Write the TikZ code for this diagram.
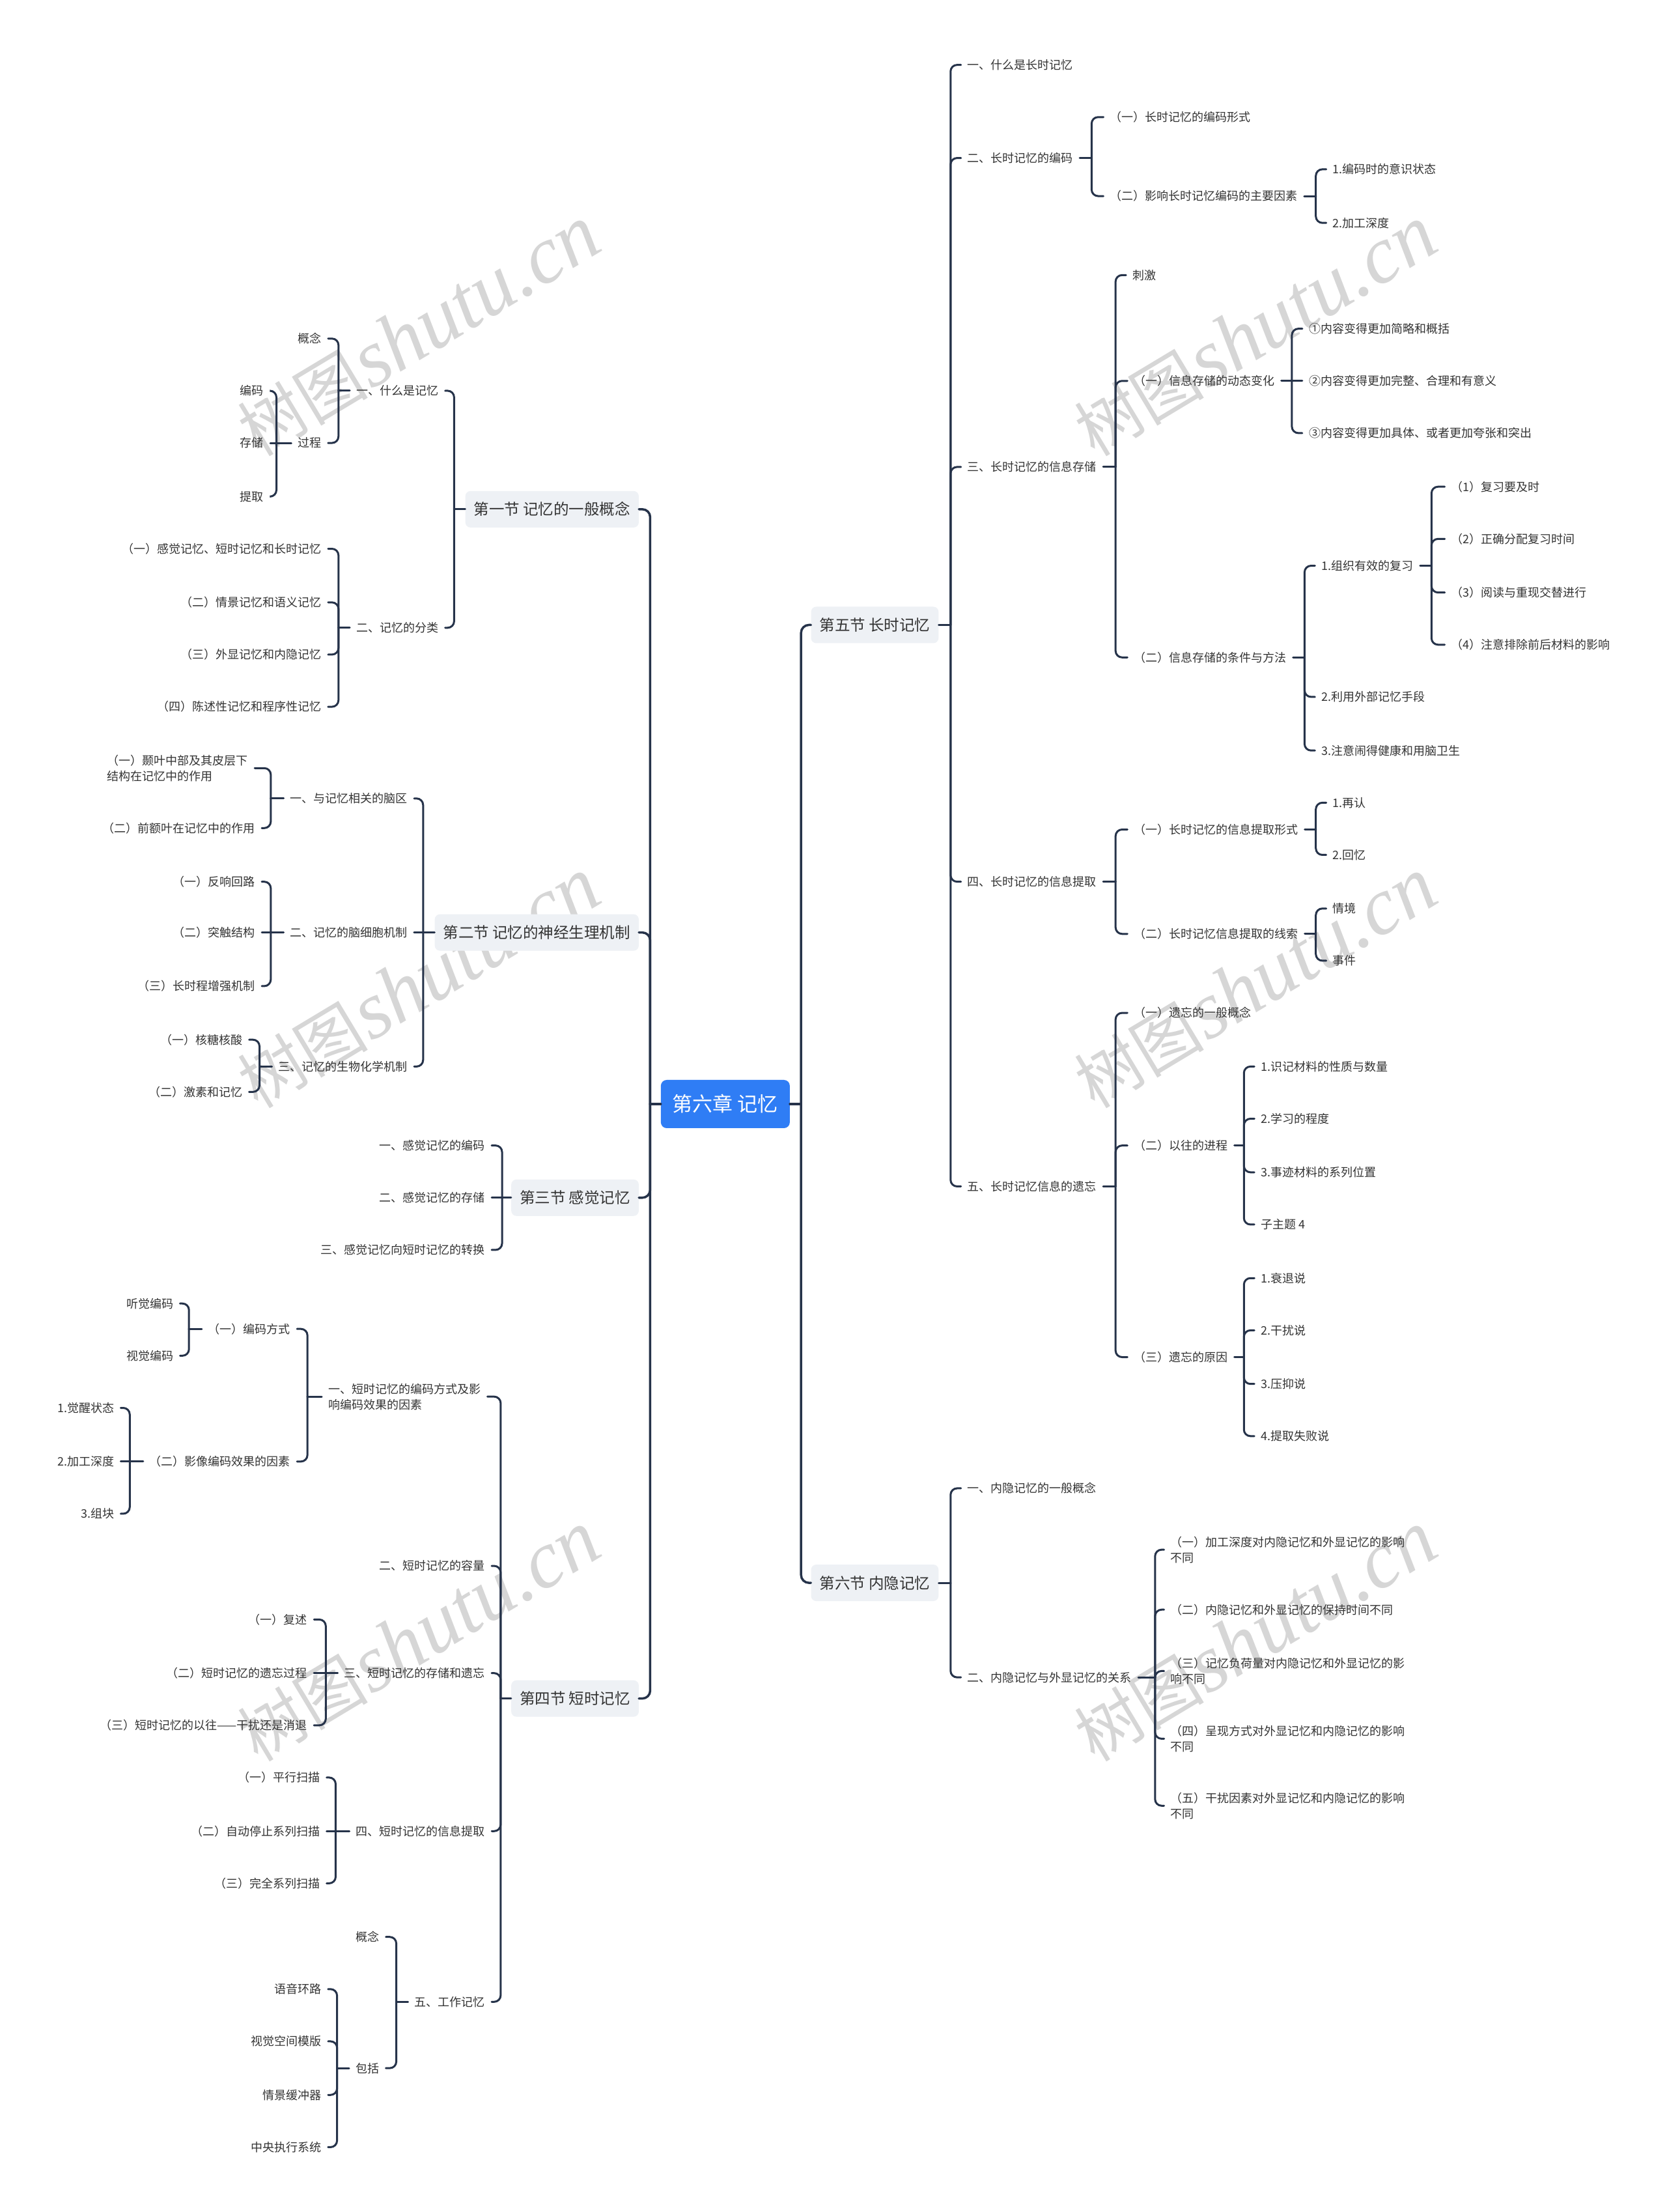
\documentclass[tikz,border=0pt]{standalone}
\usepackage{fontspec}
\setmainfont{Noto Sans CJK SC}
\newfontfamily\wmlat{Liberation Serif}
\newfontfamily\wmcjk{Noto Sans CJK SC}
\definecolor{lc}{HTML}{26334A}
\definecolor{tc}{HTML}{333333}
\definecolor{secbg}{HTML}{EEF1F5}
\definecolor{rootbg}{HTML}{2F7DF5}
\definecolor{wmc}{HTML}{D6D6D6}
\tikzset{
 ln/.style={draw=lc, line width=3pt, rounded corners=10pt, line cap=round},
 tk/.style={draw=lc, line width=3.5pt, rounded corners=12pt, line cap=round},
 txt/.style={font=\fontsize{18}{24}\selectfont, text=tc, inner xsep=10pt, inner ysep=3pt},
 kl/.style={txt, anchor=east, xshift=10pt},
 kr/.style={txt, anchor=west, xshift=-10pt},
 sec/.style={font=\fontsize{23.5}{28}\selectfont, text=tc, fill=secbg, rounded corners=8pt, inner xsep=13pt, inner ysep=0pt, minimum height=56pt},
 secl/.style={sec, anchor=east},
 secr/.style={sec, anchor=west},
 rootn/.style={font=\fontsize{31}{36}\selectfont, text=white, fill=rootbg, rounded corners=9pt, inner sep=0pt, minimum width=198pt, minimum height=74pt},
 wm/.style={text=wmc, rotate=31, inner sep=0pt}
}
\newcommand\lkids[3]{%
  \coordinate (#1j) at (#2,0 |- #1);
  \draw[ln] (#1.west) -- (#1j);
  \foreach \c in {#3}{\draw[ln] (#1j) |- (\c.east);}%
}
\newcommand\rkids[3]{%
  \coordinate (#1j) at (#2,0 |- #1);
  \draw[ln] (#1.east) -- (#1j);
  \foreach \c in {#3}{\draw[ln] (#1j) |- (\c.west);}%
}
\begin{document}
\begin{tikzpicture}[x=2.16582pt, y=-2.16582pt]
\fill[white] (0,0) rectangle (1182,1568);
\useasboundingbox (0,0) rectangle (1182,1568);
% watermarks
\foreach \wx/\wy [count=\k] in {297/235,890/235,297/697,890/697,297/1160,890/1160}
  \node[wm] (wm\k) at (\wx,\wy) {{\wmcjk\fontsize{100}{110}\selectfont 树图} {\wmlat\itshape\fontsize{125}{130}\selectfont shutu.cn}};

% root and sections
\node[rootn] (root) at (514.3,782.6) {第六章 记忆};
\node[secl] (s1) at (453,361) {第一节 记忆的一般概念};
\node[secl] (s2) at (453,661) {第二节 记忆的神经生理机制};
\node[secl] (s3) at (453,849) {第三节 感觉记忆};
\node[secl] (s4) at (453,1204) {第四节 短时记忆};
\node[secr] (s5) at (575,443) {第五节 长时记忆};
\node[secr] (s6) at (575,1122) {第六节 内隐记忆};

% section 1
\node[kl] (a1) at (311,277) {一、什么是记忆};
\node[kl] (a1x) at (228,240) {概念};
\node[kl] (a1y) at (228,314) {过程};
\node[kl] (b1) at (187,277) {编码};
\node[kl] (b2) at (187,314) {存储};
\node[kl] (b3) at (187,352) {提取};
\node[kl] (a2) at (311,445) {二、记忆的分类};
\node[kl] (a2a) at (228,389) {（一）感觉记忆、短时记忆和长时记忆};
\node[kl] (a2b) at (228,427) {（二）情景记忆和语义记忆};
\node[kl] (a2c) at (228,464) {（三）外显记忆和内隐记忆};
\node[kl] (a2d) at (228,501) {（四）陈述性记忆和程序性记忆};

% section 2
\node[kl] (d1) at (289,566) {一、与记忆相关的脑区};
\node[kl, align=left] (d1a) at (176,544.5) {（一）颞叶中部及其皮层下\\结构在记忆中的作用};
\node[kl] (d1b) at (181,587) {（二）前额叶在记忆中的作用};
\node[kl] (d2) at (289,661) {二、记忆的脑细胞机制};
\node[kl] (d2a) at (181,625) {（一）反响回路};
\node[kl] (d2b) at (181,661) {（二）突触结构};
\node[kl] (d2c) at (181,699) {（三）长时程增强机制};
\node[kl] (d3) at (289,756) {三、记忆的生物化学机制};
\node[kl] (d3a) at (172,737) {（一）核糖核酸};
\node[kl] (d3b) at (172,774) {（二）激素和记忆};

% section 3
\node[kl] (e1) at (344,812) {一、感觉记忆的编码};
\node[kl] (e2) at (344,849) {二、感觉记忆的存储};
\node[kl] (e3) at (344,886) {三、感觉记忆向短时记忆的转换};

% section 4
\node[kl, align=left] (f1) at (341,990) {一、短时记忆的编码方式及影\\响编码效果的因素};
\node[kl] (f1a) at (206,942) {（一）编码方式};
\node[kl] (f1a1) at (123,924) {听觉编码};
\node[kl] (f1a2) at (123,961) {视觉编码};
\node[kl] (f1b) at (206,1036) {（二）影像编码效果的因素};
\node[kl] (f1b1) at (81,998) {1.觉醒状态};
\node[kl] (f1b2) at (81,1036) {2.加工深度};
\node[kl] (f1b3) at (81,1073) {3.组块};
\node[kl] (f2) at (344,1110) {二、短时记忆的容量};
\node[kl] (f3) at (344,1186) {三、短时记忆的存储和遗忘};
\node[kl] (f3a) at (218,1148) {（一）复述};
\node[kl] (f3b) at (218,1186) {（二）短时记忆的遗忘过程};
\node[kl] (f3c) at (218,1223) {（三）短时记忆的以往——干扰还是消退};
\node[kl] (f4) at (344,1298) {四、短时记忆的信息提取};
\node[kl] (f4a) at (227,1260) {（一）平行扫描};
\node[kl] (f4b) at (227,1298) {（二）自动停止系列扫描};
\node[kl] (f4c) at (227,1335) {（三）完全系列扫描};
\node[kl] (f5) at (344,1419) {五、工作记忆};
\node[kl] (g1) at (269,1373) {概念};
\node[kl] (g2) at (269,1466) {包括};
\node[kl] (g2a) at (228,1410) {语音环路};
\node[kl] (g2b) at (228,1447) {视觉空间模版};
\node[kl] (g2c) at (228,1485) {情景缓冲器};
\node[kl] (g2d) at (228,1522) {中央执行系统};

% section 5
\node[kr] (h1) at (686,46) {一、什么是长时记忆};
\node[kr] (h2) at (686,112) {二、长时记忆的编码};
\node[kr] (h2a) at (787,83) {（一）长时记忆的编码形式};
\node[kr] (h2b) at (787,139) {（二）影响长时记忆编码的主要因素};
\node[kr] (h2b1) at (945,120) {1.编码时的意识状态};
\node[kr] (h2b2) at (945,158) {2.加工深度};
\node[kr] (h3) at (686,331) {三、长时记忆的信息存储};
\node[kr] (h3a) at (803,195) {刺激};
\node[kr] (h3b) at (804,270) {（一）信息存储的动态变化};
\node[kr] (h3b1) at (928,233) {①内容变得更加简略和概括};
\node[kr] (h3b2) at (928,270) {②内容变得更加完整、合理和有意义};
\node[kr] (h3b3) at (928,307) {③内容变得更加具体、或者更加夸张和突出};
\node[kr] (h3c) at (804,466) {（二）信息存储的条件与方法};
\node[kr] (h3c1) at (937,401) {1.组织有效的复习};
\node[kr] (h3c1a) at (1029,345) {（1）复习要及时};
\node[kr] (h3c1b) at (1029,382) {（2）正确分配复习时间};
\node[kr] (h3c1c) at (1029,420) {（3）阅读与重现交替进行};
\node[kr] (h3c1d) at (1029,457) {（4）注意排除前后材料的影响};
\node[kr] (h3c2) at (937,494) {2.利用外部记忆手段};
\node[kr] (h3c3) at (937,532) {3.注意闹得健康和用脑卫生};
\node[kr] (h4) at (686,625) {四、长时记忆的信息提取};
\node[kr] (h4a) at (804,588) {（一）长时记忆的信息提取形式};
\node[kr] (h4a1) at (945,569) {1.再认};
\node[kr] (h4a2) at (945,606) {2.回忆};
\node[kr] (h4b) at (804,662) {（二）长时记忆信息提取的线索};
\node[kr] (h4b1) at (945,644) {情境};
\node[kr] (h4b2) at (945,681) {事件};
\node[kr] (h5) at (686,841) {五、长时记忆信息的遗忘};
\node[kr] (h5a) at (804,718) {（一）遗忘的一般概念};
\node[kr] (h5b) at (804,812) {（二）以往的进程};
\node[kr] (h5b1) at (894,756) {1.识记材料的性质与数量};
\node[kr] (h5b2) at (894,793) {2.学习的程度};
\node[kr] (h5b3) at (894,831) {3.事迹材料的系列位置};
\node[kr] (h5b4) at (894,868) {子主题 4};
\node[kr] (h5c) at (804,962) {（三）遗忘的原因};
\node[kr] (h5c1) at (894,906) {1.衰退说};
\node[kr] (h5c2) at (894,943) {2.干扰说};
\node[kr] (h5c3) at (894,981) {3.压抑说};
\node[kr] (h5c4) at (894,1018) {4.提取失败说};

% section 6
\node[kr] (i1) at (686,1055) {一、内隐记忆的一般概念};
\node[kr] (i2) at (686,1189) {二、内隐记忆与外显记忆的关系};
\node[kr, align=left] (i2a) at (830,1098.5) {（一）加工深度对内隐记忆和外显记忆的影响\\不同};
\node[kr] (i2b) at (830,1141) {（二）内隐记忆和外显记忆的保持时间不同};
\node[kr, align=left] (i2c) at (830,1184.5) {（三）记忆负荷量对内隐记忆和外显记忆的影\\响不同};
\node[kr, align=left] (i2d) at (830,1232.5) {（四）呈现方式对外显记忆和内隐记忆的影响\\不同};
\node[kr, align=left] (i2e) at (830,1280) {（五）干扰因素对外显记忆和内隐记忆的影响\\不同};

% trunk connectors
\coordinate (rootLj) at (461,0 |- root);
\draw[tk] (root.west) -- (rootLj);
\foreach \s in {s1,s2,s3,s4} \draw[tk] (rootLj) |- (\s.east);
\coordinate (rootRj) at (568,0 |- root);
\draw[tk] (root.east) -- (rootRj);
\foreach \s in {s5,s6} \draw[tk] (rootRj) |- (\s.west);

% left connectors
\lkids{s1}{322}{a1,a2}
\lkids{a1}{240}{a1x,a1y}
\lkids{a1y}{196}{b1,b3}
\draw[ln] (a1yj) -- (b2.east);
\lkids{a2}{240}{a2a,a2b,a2c,a2d}
\lkids{s2}{300}{d1,d3}
\draw[ln] (s2j) -- (d2.east);
\lkids{d1}{192}{d1a,d1b}
\lkids{d2}{192}{d2a,d2c}
\draw[ln] (d2j) -- (d2b.east);
\lkids{d3}{184}{d3a,d3b}
\lkids{s3}{356}{e1,e3}
\draw[ln] (s3j) -- (e2.east);
\lkids{s4}{355}{f1,f2,f3,f4,f5}
\lkids{f1}{218}{f1a,f1b}
\lkids{f1a}{134}{f1a1,f1a2}
\lkids{f1b}{92}{f1b1,f1b3}
\draw[ln] (f1bj) -- (f1b2.east);
\lkids{f3}{231}{f3a,f3c}
\draw[ln] (f3j) -- (f3b.east);
\lkids{f4}{238}{f4a,f4c}
\draw[ln] (f4j) -- (f4b.east);
\lkids{f5}{281}{g1,g2}
\lkids{g2}{239}{g2a,g2b,g2c,g2d}

% right connectors
\rkids{s5}{674}{h1,h2,h3,h4,h5}
\rkids{h2}{774}{h2a,h2b}
\rkids{h2b}{933}{h2b1,h2b2}
\rkids{h3}{791}{h3a,h3b,h3c}
\rkids{h3b}{916}{h3b1,h3b3}
\draw[ln] (h3bj) -- (h3b2.west);
\rkids{h3c}{925}{h3c1,h3c2,h3c3}
\rkids{h3c1}{1015}{h3c1a,h3c1b,h3c1c,h3c1d}
\rkids{h4}{791}{h4a,h4b}
\rkids{h4a}{933}{h4a1,h4a2}
\rkids{h4b}{933}{h4b1,h4b2}
\rkids{h5}{791}{h5a,h5b,h5c}
\rkids{h5b}{882}{h5b1,h5b2,h5b3,h5b4}
\rkids{h5c}{882}{h5c1,h5c2,h5c3,h5c4}
\rkids{s6}{674}{i1,i2}
\rkids{i2}{819}{i2a,i2b,i2c,i2d,i2e}
\end{tikzpicture}
\end{document}
